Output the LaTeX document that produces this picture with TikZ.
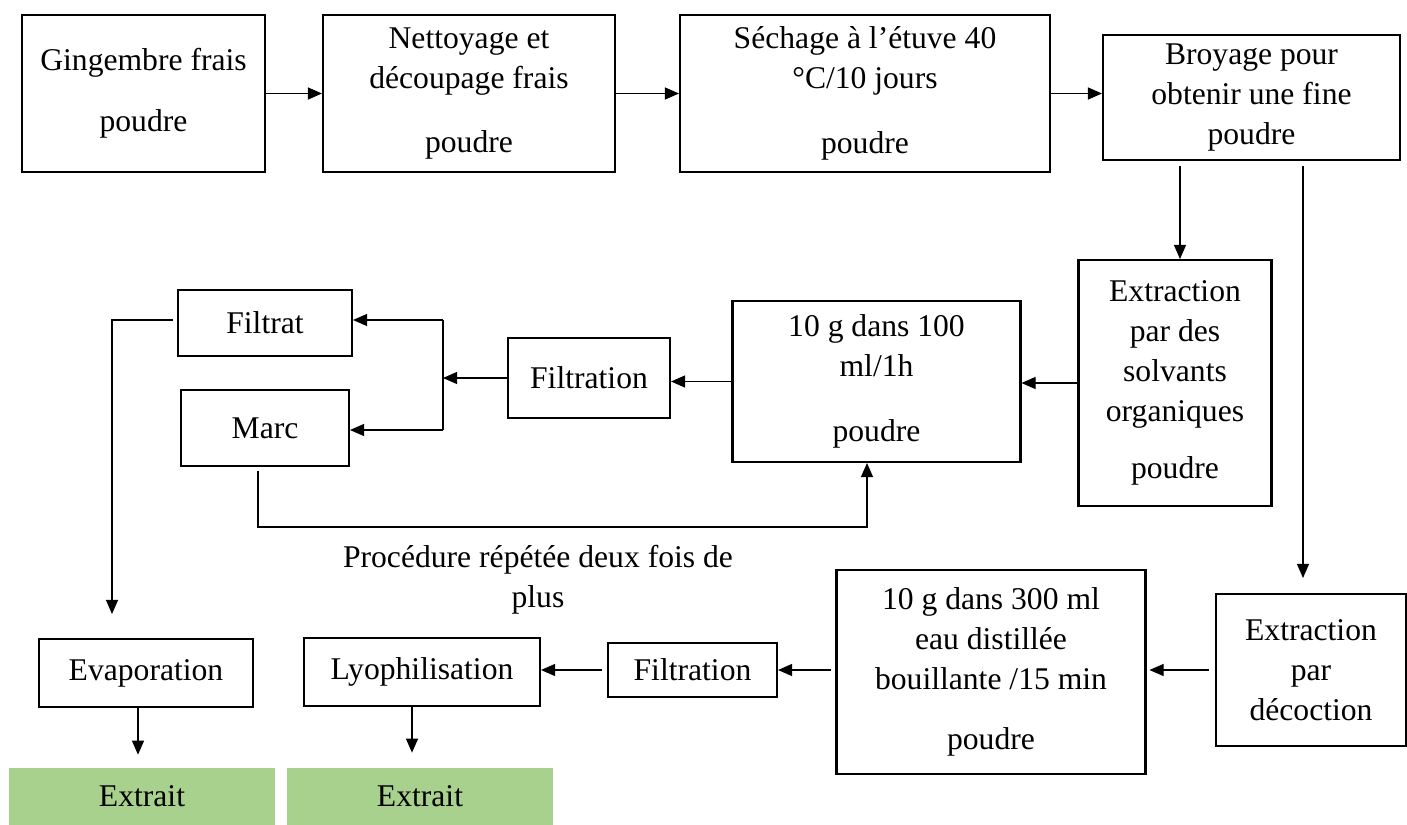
\documentclass[tikz,border=0pt]{standalone}
\usepackage{fontspec}
\setmainfont{Liberation Serif}
\usepackage{tikz}
\usetikzlibrary{arrows.meta,positioning,calc}
\definecolor{extgreen}{RGB}{169,209,142}
\tikzset{
  stepbox/.style={draw, line width=1.2pt, align=center, inner sep=0pt,
                  font=\fontsize{18}{22.7}\selectfont},
  outbox/.style ={fill=extgreen, align=center, inner sep=0pt,
                  minimum width=5.32cm, minimum height=1.14cm,
                  font=\fontsize{18}{22.7}\selectfont},
  note/.style   ={align=center, inner sep=0pt,
                  font=\fontsize{18}{22.7}\selectfont},
  arr/.style    ={-{Triangle[length=0.28cm,width=0.24cm]}, line width=0.6pt},
  ln/.style     ={line width=0.6pt},
}

\begin{document}
\begin{tikzpicture}[x=0.02cm, y=-0.02cm]

\useasboundingbox (0,0) rectangle (1407,825);

\node[stepbox, minimum width=4.86cm, minimum height=3.14cm] (gin) at (143.5,93.5)
  {Gingembre frais\\[12pt]poudre};
\node[stepbox, minimum width=5.84cm, minimum height=3.14cm] (net) at (469,93.5)
  {Nettoyage et\\découpage frais\\[14pt]poudre};
\node[stepbox, minimum width=7.40cm, minimum height=3.14cm] (sech) at (865,93.5)
  {Séchage à l’étuve 40\\°C/10 jours\\[14pt]poudre};
\node[stepbox, minimum width=5.94cm, minimum height=2.50cm] (broy) at (1251.5,97.5)
  {Broyage pour\\obtenir une fine\\poudre};

\node[stepbox, minimum width=3.86cm, minimum height=4.92cm] (ext) at (1175,383)
  {Extraction\\par des\\solvants\\organiques\\[10pt]poudre};
\node[stepbox, minimum width=5.76cm, minimum height=3.22cm] (mac) at (876.5,381.5)
  {10 g dans 100\\ml/1h\\[14pt]poudre};
\node[stepbox, minimum width=3.24cm, minimum height=1.60cm] (filt1) at (589,378)
  {Filtration};
\node[stepbox, minimum width=3.48cm, minimum height=1.32cm] (filtrat) at (265,323)
  {Filtrat};
\node[stepbox, minimum width=3.36cm, minimum height=1.52cm] (marc) at (265,428)
  {Marc};

\node[note] (rep) at (538,580) {Procédure répétée deux fois de\\plus};

\node[stepbox, minimum width=4.28cm, minimum height=1.36cm] (evap) at (146,673)
  {Evaporation};
\node[stepbox, minimum width=4.72cm, minimum height=1.36cm] (lyo) at (422,672)
  {Lyophilisation};
\node[stepbox, minimum width=3.38cm, minimum height=1.08cm] (filt2) at (692.5,670)
  {Filtration};
\node[stepbox, minimum width=6.18cm, minimum height=4.08cm] (bouil) at (991,672)
  {10 g dans 300 ml\\eau distillée\\bouillante /15 min\\[12pt]poudre};
\node[stepbox, minimum width=3.80cm, minimum height=3.04cm] (decoc) at (1311,670)
  {Extraction\\par\\décoction};

\node[outbox] (out1) at (142,796.5) {Extrait};
\node[outbox] (out2) at (420,796.5) {Extrait};

\coordinate (split)    at (443,378);
\coordinate (splittop) at (443,320);
\coordinate (splitbot) at (443,430);
\coordinate (back)     at (867,527);

\draw[arr] (gin)  -- (net);
\draw[arr] (net)  -- (sech);
\draw[arr] (sech.east) -- (sech.east -| broy.west);
\draw[arr, shorten <=0.1cm] ([xshift=0.1cm]broy.south -| ext.north) -- ([xshift=0.1cm]ext.north);
\draw[arr, shorten <=0.1cm, shorten >=0.3cm]
  ([xshift=-0.16cm]broy.south -| decoc.north) -- ([xshift=-0.16cm]decoc.north);
\draw[arr] (ext.west) -- (ext.west -| mac.east);
\draw[arr] (mac.west) -- (mac.west -| filt1.east);
\draw[arr] (filt1.west) -- (split);
\draw[ln]  (splittop) -- (splitbot);
\draw[arr] (splittop) -- (splittop -| filtrat.east);
\draw[arr] (splitbot) -- (splitbot -| marc.east);
\draw[arr] ([xshift=-0.08cm,yshift=0.06cm]filtrat.west)
  -| ([xshift=-0.68cm,yshift=0.48cm]evap.north);
\draw[arr] ([xshift=-0.14cm,yshift=-0.08cm]marc.south) |- (back) -- (back |- mac.south);
\draw[arr, shorten <=0.12cm, shorten >=0.06cm] (decoc.west) -- (decoc.west -| bouil.east);
\draw[arr, shorten <=0.08cm] (bouil.west |- filt2.east) -- (filt2.east);
\draw[arr, shorten <=0.1cm] (filt2.west) -- (filt2.west -| lyo.east);
\draw[arr, shorten >=0.26cm] ([xshift=-0.16cm]evap.south) -- ([xshift=-0.16cm]evap.south |- out1.north);
\draw[arr, shorten >=0.3cm] ([xshift=-0.2cm]lyo.south) -- ([xshift=-0.2cm]lyo.south |- out2.north);

\end{tikzpicture}
\end{document}
